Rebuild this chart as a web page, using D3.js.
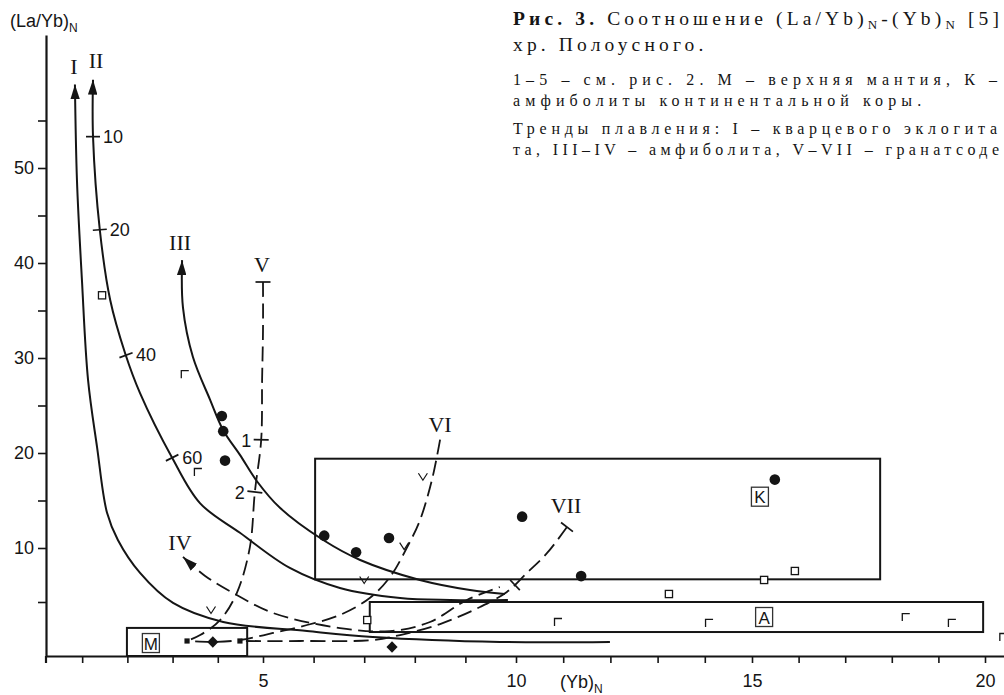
<!DOCTYPE html>
<html>
<head>
<meta charset="utf-8">
<script src="https://cdn.jsdelivr.net/npm/d3@7"></script>
<style>
  body { margin: 0; background: #fff; }
  svg { display: block; }
</style>
</head>
<body>
<svg id="chart" width="1004" height="695"></svg>
<script>
// ---- axis ticks ----
const xMajorTicks = [5, 10, 15, 20];
const xMinorTicks = d3.range(1, 21);
const yMajorTicks = [10, 20, 30, 40, 50];
const yMinorTicks = [5, 15, 25, 35, 45, 55];

// ---- melting trends, points as [(Yb)N, (La/Yb)N] ----
const trendI = [[0.84, 58.8], [0.885, 48.7], [0.995, 38.2], [1.13, 27.7], [1.33, 20.6], [1.55, 13.7],
  [1.79, 10.84], [2.28, 7.69], [3.01, 4.91], [4.12, 3.15], [5.87, 2.31], [7.17, 1.76], [9.68, 1.3], [11.99, 1.3]];
const trendII = [[1.24, 59.3], [1.24, 53.3], [1.39, 43.5], [1.62, 36.1], [1.95, 30.5], [2.28, 26.3],
  [2.99, 19.5], [3.61, 14.7], [4.49, 11.6], [5.53, 8.15], [6.52, 6.3], [7.71, 5.37], [8.7, 5.19], [9.84, 5.19]];
const trendIII = [[3.21, 40.3], [3.23, 35.3], [3.45, 30.1], [3.83, 25.6], [4.12, 22.4], [4.49, 19.8],
  [4.87, 17.0], [5.34, 14.2], [6.19, 10.84], [6.92, 8.89], [8.1, 7.04], [9.09, 6.11], [9.78, 5.74]];
const trendIV = [[3.23, 9.17], [3.72, 7.41], [4.34, 5.83], [5.2, 3.98], [6.52, 2.59], [7.51, 2.31],
  [8.3, 3.15], [9.03, 5.19], [9.68, 6.39]];
const trendV = [[5.0, 38.0], [5.0, 32.9], [4.98, 27.7], [4.96, 21.4], [4.82, 15.9], [4.71, 10.1],
  [4.42, 5.83], [4.05, 3.33], [3.61, 1.94], [3.32, 1.39]];
const trendVI = [[8.5, 21.4], [8.34, 17.2], [8.1, 12.9], [7.85, 10.1], [7.51, 7.31], [7.11, 5.37],
  [6.52, 3.8], [5.87, 2.87], [5.2, 2.13], [4.49, 1.48], [3.89, 1.3], [3.32, 1.39]];
const trendVII = [[11.08, 12.2], [10.66, 9.54], [10.23, 7.69], [9.82, 5.93], [9.29, 4.54], [8.5, 2.96],
  [7.71, 1.94], [7.17, 1.48], [5.73, 1.39], [4.49, 1.39]];

// degree-of-melting marks on trend II (%) and on trend V
const trendIIMarkLabels = [10, 20, 40, 60];
const trendIIMarks = [[1.24, 53.3], [1.39, 43.5], [1.97, 30.3], [2.99, 19.5]];
const trendVMarkLabels = [1, 2];
const trendVMarks = [[4.96, 21.4], [4.82, 15.9]];
const trendVIIMark = [9.98, 6.57];

// ---- samples ----
const circles = [[4.09, 23.9], [4.12, 22.3], [4.16, 19.2], [6.21, 11.3], [6.84, 9.6], [7.49, 11.05],
  [10.13, 13.3], [11.38, 7.4], [15.49, 17.2]];
const openSquares = [[1.44, 36.6], [13.24, 5.74], [15.26, 7.04], [15.92, 7.87], [7.06, 3.33]];
const cornerMarks = [[3.27, 28.3], [3.56, 18.0], [10.89, 3.15], [14.09, 3.06], [18.3, 3.6], [19.29, 3.06], [20.39, 1.76]];
const checkMarks = [[3.85, 4.26], [7.0, 7.04], [7.79, 10.2], [8.16, 17.5]];
const diamonds = [[3.89, 1.3], [7.55, 0.83]];
const smallSquares = [[3.32, 1.39], [4.49, 1.39]];

// ---- source fields: M – upper mantle, A – amphibolites, K – continental crust ----
const fieldNames = ["M", "A", "K"];
const fieldX0 = [1.99, 7.11, 6.03];
const fieldX1 = [4.65, 19.96, 17.75];
const fieldY0 = [0, 2.22, 7.1];
const fieldY1 = [2.6, 5.0, 19.4];
const fieldLabelX = [2.52, 15.26, 15.17];
const fieldLabelY = [1.2, 3.61, 15.4];

// ---- caption ----
const captionLine2 = "хр. Полоусного.";
const captionLine3 = "1–5 – см. рис. 2. М – верхняя мантия, К –";
const captionLine4 = "амфиболиты континентальной коры.";
const captionLine5 = "Тренды плавления: I – кварцевого эклогита";
const captionLine6 = "та, III–IV – амфиболита, V–VII – гранатсоде";

const sans = "'Liberation Sans', Arial, sans-serif";
const serif = "'Liberation Serif', 'Times New Roman', serif";
const ink = "#151515";

const svg = d3.select("#chart");

// hand-drafted axes: piecewise-linear scales through the labelled ticks
const x = d3.scaleLinear().domain([0.2, 5, 10, 15, 20, 21]).range([46, 263, 516, 752, 985, 1032]);
const y = d3.scaleLinear().domain([0, 10, 50, 64]).range([656, 548, 168, 35]);
const pix = p => [x(p[0]), y(p[1])];

// arrowhead
const defs = svg.append("defs");
defs.append("marker")
  .attr("id", "arrow")
  .attr("viewBox", "0 0 10 10")
  .attr("refX", 10).attr("refY", 5)
  .attr("markerUnits", "userSpaceOnUse")
  .attr("markerWidth", 15).attr("markerHeight", 9.5)
  .attr("preserveAspectRatio", "none")
  .attr("orient", "auto-start-reverse")
  .append("path").attr("d", "M0,0 L10,5 L0,10 Z").attr("fill", ink);

// ---- axes ----
const xAxis = d3.axisBottom(x)
  .tickValues(xMinorTicks)
  .tickSize(7).tickSizeOuter(0).tickPadding(11)
  .tickFormat(d => xMajorTicks.includes(d) ? d : "");
const gx = svg.append("g").attr("transform", "translate(0,656)").call(xAxis);

const yAxis = d3.axisLeft(y)
  .tickValues(yMinorTicks.concat(yMajorTicks))
  .tickSize(8).tickSizeOuter(0).tickPadding(4)
  .tickFormat(d => yMajorTicks.includes(d) ? d : "");
const gy = svg.append("g").attr("transform", "translate(46,0)").call(yAxis);

[gx, gy].forEach(g => {
  g.select(".domain").attr("stroke", ink).attr("stroke-width", 2.2);
  g.selectAll(".tick line").attr("stroke", ink).attr("stroke-width", 1.6);
  g.selectAll(".tick text").attr("fill", ink).style("font-family", sans).style("font-size", "18px");
});
svg.append("line").attr("x1", 46).attr("x2", 46).attr("y1", 656).attr("y2", 663)
  .attr("stroke", ink).attr("stroke-width", 2.2);

// axis titles
const yTitle = svg.append("text").attr("x", 10).attr("y", 27)
  .style("font-family", sans).style("font-size", "18px").attr("fill", ink);
yTitle.append("tspan").text("(La/Yb)");
yTitle.append("tspan").attr("dy", 5).style("font-size", "12px").text("N");

const xTitle = svg.append("text").attr("x", 560).attr("y", 688)
  .style("font-family", sans).style("font-size", "18px").attr("fill", ink);
xTitle.append("tspan").text("(Yb)");
xTitle.append("tspan").attr("dy", 5).style("font-size", "12px").text("N");

// ---- fields ----
const fields = fieldNames.map((n, i) => ({
  name: n, x0: fieldX0[i], x1: fieldX1[i], y0: fieldY0[i], y1: fieldY1[i], lx: fieldLabelX[i], ly: fieldLabelY[i]
}));
svg.append("g").selectAll("rect").data(fields).join("rect")
  .attr("x", d => x(d.x0)).attr("y", d => y(d.y1))
  .attr("width", d => x(d.x1) - x(d.x0)).attr("height", d => y(d.y0) - y(d.y1))
  .attr("fill", "none").attr("stroke", ink).attr("stroke-width", 2);

// ---- trends ----
const line = d3.line().x(d => x(d[0])).y(d => y(d[1])).curve(d3.curveCatmullRom.alpha(0.5));
const trends = [
  { name: "I", pts: trendI, dashed: false, arrow: true, dx: -1, dy: -10 },
  { name: "II", pts: trendII, dashed: false, arrow: true, dx: 3, dy: -12 },
  { name: "III", pts: trendIII, dashed: false, arrow: true, dx: -2, dy: -10 },
  { name: "IV", pts: trendIV, dashed: true, arrow: true, dx: -3, dy: -7 },
  { name: "V", pts: trendV, dashed: true, arrow: false, dx: -1, dy: -10 },
  { name: "VI", pts: trendVI, dashed: true, arrow: false, dx: 0, dy: -8 },
  { name: "VII", pts: trendVII, dashed: true, arrow: false, dx: -1, dy: -14 }
];
const gTrends = svg.append("g");
trends.forEach(t => {
  gTrends.append("path")
    .attr("d", line(t.pts))
    .attr("fill", "none").attr("stroke", ink)
    .attr("stroke-width", t.dashed ? 1.8 : 2)
    .attr("stroke-dasharray", t.dashed ? "15,6.5" : null)
    .attr("marker-start", t.arrow ? "url(#arrow)" : null);
  const p = pix(t.pts[0]);
  gTrends.append("text")
    .attr("x", p[0] + t.dx).attr("y", p[1] + t.dy)
    .attr("text-anchor", "middle")
    .style("font-family", serif).style("font-size", "22px").attr("fill", ink)
    .text(t.name);
});

// short bar across a trend, perpendicular to it
function crossBar(pts, p, len) {
  const P = pts.map(pix), q = pix(p);
  let best = null, bd = Infinity;
  for (let i = 0; i < P.length - 1; i++) {
    const a = P[i], b = P[i + 1], dx = b[0] - a[0], dy = b[1] - a[1];
    const t = Math.max(0, Math.min(1, ((q[0] - a[0]) * dx + (q[1] - a[1]) * dy) / (dx * dx + dy * dy)));
    const d = Math.hypot(q[0] - (a[0] + t * dx), q[1] - (a[1] + t * dy));
    if (d < bd) { bd = d; best = [dx, dy]; }
  }
  const L = Math.hypot(best[0], best[1]);
  const nx = -best[1] / L, ny = best[0] / L;
  gTrends.append("line")
    .attr("x1", q[0] - nx * len / 2).attr("y1", q[1] - ny * len / 2)
    .attr("x2", q[0] + nx * len / 2).attr("y2", q[1] + ny * len / 2)
    .attr("stroke", ink).attr("stroke-width", 1.7);
  return q;
}

trendIIMarks.forEach((m, i) => {
  const q = crossBar(trendII, m, 14);
  gTrends.append("text").attr("x", q[0] + 10).attr("y", q[1] + 6)
    .style("font-family", sans).style("font-size", "18px").attr("fill", ink)
    .text(trendIIMarkLabels[i]);
});
trendVMarks.forEach((m, i) => {
  const q = crossBar(trendV, m, 15);
  gTrends.append("text").attr("x", q[0] - 10).attr("y", q[1] + 7)
    .attr("text-anchor", "end")
    .style("font-family", sans).style("font-size", "18px").attr("fill", ink)
    .text(trendVMarkLabels[i]);
});
crossBar(trendV, trendV[0], 15);
crossBar(trendVII, trendVII[0], 15);
crossBar(trendVII, trendVIIMark, 14);

// ---- samples ----
const gPts = svg.append("g");
gPts.selectAll("circle").data(circles).join("circle")
  .attr("cx", d => x(d[0])).attr("cy", d => y(d[1])).attr("r", 5.3).attr("fill", ink);

gPts.selectAll("rect.open").data(openSquares).join("rect").attr("class", "open")
  .attr("x", d => x(d[0]) - 3.6).attr("y", d => y(d[1]) - 3.6)
  .attr("width", 7.2).attr("height", 7.2)
  .attr("fill", "#fff").attr("stroke", ink).attr("stroke-width", 1.3);

gPts.selectAll("rect.small").data(smallSquares).join("rect").attr("class", "small")
  .attr("x", d => x(d[0]) - 2.6).attr("y", d => y(d[1]) - 2.6)
  .attr("width", 5.2).attr("height", 5.2).attr("fill", ink);

gPts.selectAll("path.diamond").data(diamonds).join("path").attr("class", "diamond")
  .attr("transform", d => `translate(${x(d[0])},${y(d[1])})`)
  .attr("d", "M0,-5.8 L5.6,0 L0,5.8 L-5.6,0 Z").attr("fill", ink);

gPts.selectAll("path.corner").data(cornerMarks).join("path").attr("class", "corner")
  .attr("transform", d => `translate(${x(d[0])},${y(d[1])})`)
  .attr("d", "M-3.5,4 L-3.5,-3.5 L4,-3.5")
  .attr("fill", "none").attr("stroke", ink).attr("stroke-width", 1.3);

gPts.selectAll("path.check").data(checkMarks).join("path").attr("class", "check")
  .attr("transform", d => `translate(${x(d[0])},${y(d[1])})`)
  .attr("d", "M-4.5,-3.5 L0,3.5 L4.5,-3.5")
  .attr("fill", "none").attr("stroke", ink).attr("stroke-width", 1.2);

// field labels in small frames
const gLab = svg.append("g");
fields.forEach(f => {
  const cx = x(f.lx), cy = y(f.ly);
  gLab.append("rect").attr("x", cx - 8.5).attr("y", cy - 9.5).attr("width", 17).attr("height", 19)
    .attr("fill", "#fff").attr("stroke", "#333").attr("stroke-width", 1.3);
  gLab.append("text").attr("x", cx).attr("y", cy + 6.5).attr("text-anchor", "middle")
    .style("font-family", sans).style("font-size", "17px").attr("fill", ink).text(f.name);
});

// ---- caption ----
const gCap = svg.append("g").attr("fill", ink).style("font-family", serif);
const cap1 = gCap.append("text").attr("x", 513).attr("y", 25).style("font-size", "19.5px");
cap1.append("tspan").style("font-weight", "bold").text("Рис. 3.");
cap1.append("tspan").text(" Соотношение (La/Yb)");
cap1.append("tspan").attr("dy", 4).style("font-size", "13px").text("N");
cap1.append("tspan").attr("dy", -4).text("-(Yb)");
cap1.append("tspan").attr("dy", 4).style("font-size", "13px").text("N");
cap1.append("tspan").attr("dy", -4).text(" [5]");
const cap2 = gCap.append("text").attr("x", 513).attr("y", 51).style("font-size", "19.5px").text(captionLine2);

const capSmall = [
  [captionLine3, 85], [captionLine4, 106], [captionLine5, 134], [captionLine6, 155]
].map(([t, yy]) => gCap.append("text").attr("x", 513).attr("y", yy).style("font-size", "16px").text(t));

// spread the letters the way the printed caption is set
function spacingFor(sel, width) {
  const n = sel.text().length;
  return (width - sel.node().getComputedTextLength()) / (n - 1);
}
const ls1 = spacingFor(cap1, 486);
cap1.style("letter-spacing", ls1 + "px");
cap2.style("letter-spacing", ls1 + "px");
const ls3 = spacingFor(capSmall[0], 484);
capSmall[0].style("letter-spacing", ls3 + "px");
capSmall[1].style("letter-spacing", ls3 + "px");
capSmall[2].style("letter-spacing", spacingFor(capSmall[2], 484) + "px");
capSmall[3].style("letter-spacing", spacingFor(capSmall[3], 486) + "px");
</script>
</body>
</html>
